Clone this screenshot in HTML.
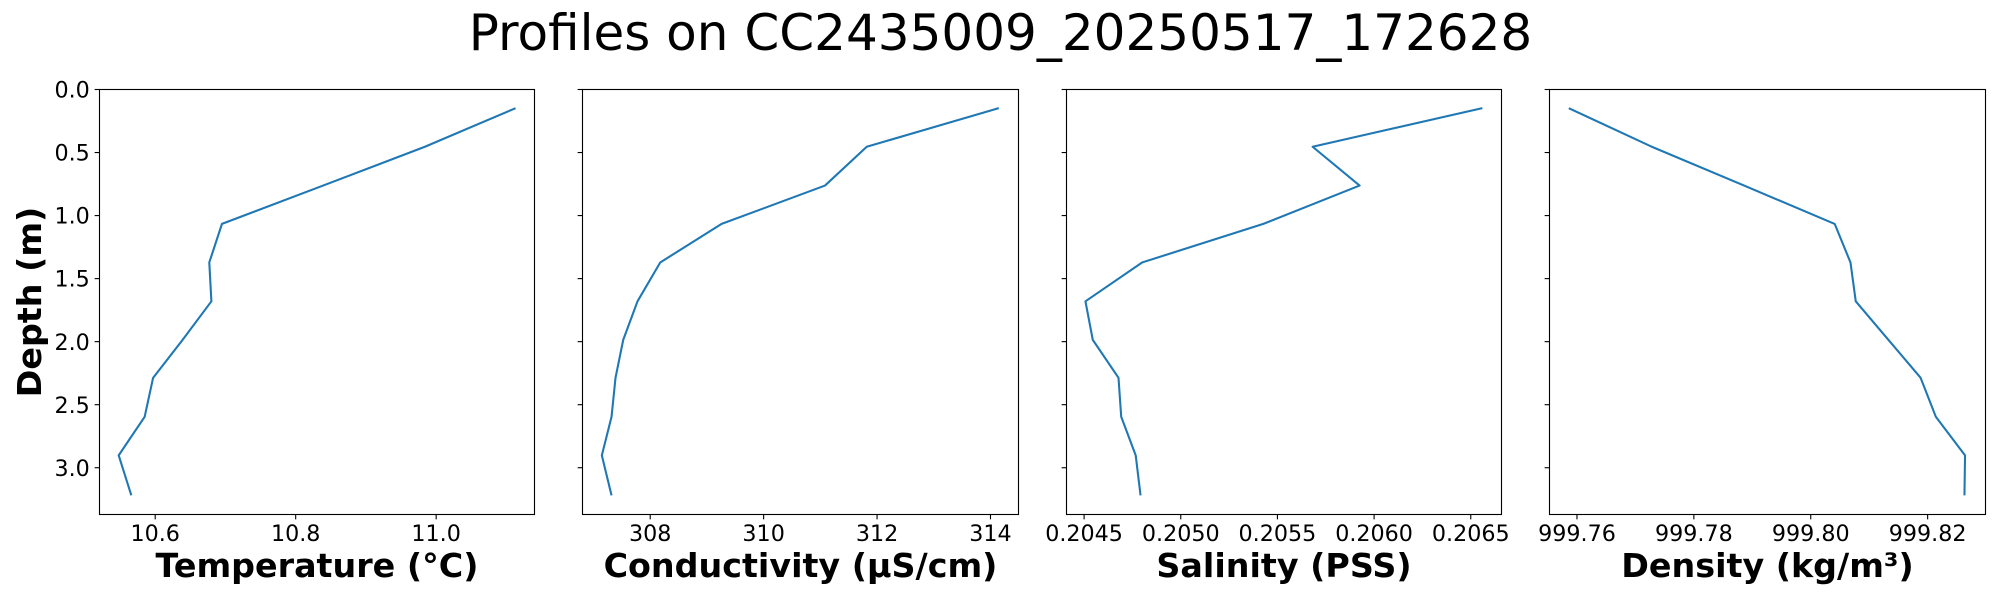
<!DOCTYPE html>
<html lang="en">
<head>
<meta charset="utf-8">
<title>Profiles on CC2435009_20250517_172628</title>
<style>
html,body{margin:0;padding:0;background:#fff;width:2000px;height:600px;overflow:hidden}
svg{display:block}
text{font-family:"DejaVu Sans","Liberation Sans",sans-serif;fill:#000}
.tick{font-size:22.22px}
.lab{font-size:33.33px;font-weight:bold}
</style>
</head>
<body>
<svg id="fig" width="2000" height="600" viewBox="0 0 2000 600" xmlns="http://www.w3.org/2000/svg">
<text x="1000.5" y="50" text-anchor="middle" font-size="50">Profiles on CC2435009_20250517_172628</text>
</svg>
<script>
var depths = [0.148, 0.454, 0.762, 1.066, 1.372, 1.680, 1.986, 2.287, 2.596, 2.902, 3.219];
var temperature = [11.113, 10.984, 10.839, 10.695, 10.677, 10.680, 10.639, 10.597, 10.585, 10.548, 10.566];
var conductivity = [314.147, 311.818, 311.082, 309.259, 308.176, 307.776, 307.524, 307.388, 307.318, 307.147, 307.318];
var salinity = [0.206560, 0.205682, 0.205925, 0.205427, 0.204800, 0.204507, 0.204545, 0.204678, 0.204692, 0.204767, 0.204792];
var density = [999.7586, 999.7728, 999.7886, 999.8041, 999.8068, 999.8077, 999.8133, 999.8188, 999.8214, 999.8264, 999.8263];

var depthTicks = [0, 0.5, 1, 1.5, 2, 2.5, 3];
var depthTickLabels = ['0.0', '0.5', '1.0', '1.5', '2.0', '2.5', '3.0'];
var depthDomain = [0, 3.371];

var temperatureTicks = [10.6, 10.8, 11.0];
var temperatureTickLabels = ['10.6', '10.8', '11.0'];
var temperatureDomain = [10.5207, 11.140];

var conductivityTicks = [308, 310, 312, 314];
var conductivityTickLabels = ['308', '310', '312', '314'];
var conductivityDomain = [306.806, 314.494];

var salinityTicks = [0.2045, 0.2050, 0.2055, 0.2060, 0.2065];
var salinityTickLabels = ['0.2045', '0.2050', '0.2055', '0.2060', '0.2065'];
var salinityDomain = [0.204409, 0.206659];

var densityTicks = [999.76, 999.78, 999.80, 999.82];
var densityTickLabels = ['999.76', '999.78', '999.80', '999.82'];
var densityDomain = [999.7553, 999.8299];

var NS = 'http://www.w3.org/2000/svg';
var fig = document.getElementById('fig');
var TOP = 89.5, BOTTOM = 514.5, TICK = 4.86;

function mk(tag, attrs, parent) {
  var el = document.createElementNS(NS, tag);
  for (var k in attrs) el.setAttribute(k, attrs[k]);
  parent.appendChild(el);
  return el;
}

function drawPanel(key, left, right, values, domain, ticks, tickLabels, xlabel, showDepth) {
  var xScale = function (v) { return left + (v - domain[0]) / (domain[1] - domain[0]) * (right - left); };
  var yScale = function (d) { return TOP + (d - depthDomain[0]) / (depthDomain[1] - depthDomain[0]) * (BOTTOM - TOP); };

  var g = mk('g', {}, fig);
  
  

  var pts = values.map(function (v, i) { return xScale(v).toFixed(2) + ',' + yScale(depths[i]).toFixed(2); }).join(' ');
  var line = mk('polyline', { points: pts, fill: 'none', stroke: '#1f77b4', 'stroke-width': 2.08, 'stroke-linejoin': 'round', 'stroke-linecap': 'butt' }, g);
  
  

  var frame = mk('rect', { x: left, y: TOP, width: right - left, height: BOTTOM - TOP, fill: 'none', stroke: '#000', 'stroke-width': 1.11 }, g);
  
  

  ticks.forEach(function (t, i) {
    var x = xScale(t);
    var m = mk('line', { x1: x, x2: x, y1: BOTTOM, y2: BOTTOM + TICK, stroke: '#000', 'stroke-width': 1.11 }, g);
    
    
    var lb = mk('text', { x: x, y: 541, 'text-anchor': 'middle', 'class': 'tick' }, g);
    
    
    lb.textContent = tickLabels[i];
  });

  depthTicks.forEach(function (t, i) {
    var y = yScale(t);
    var m = mk('line', { x1: left - TICK, x2: left, y1: y, y2: y, stroke: '#000', 'stroke-width': 1.11 }, g);
    
    
    if (showDepth) {
      var lb = mk('text', { x: left - 9.7, y: y + 8.1, 'text-anchor': 'end', 'class': 'tick' }, g);
      
      
      lb.textContent = depthTickLabels[i];
    }
  });

  var xl = mk('text', { x: (left + right) / 2, y: 577, 'text-anchor': 'middle', 'class': 'lab' }, g);
  
  
  xl.textContent = xlabel;

  if (showDepth) {
    var yl = mk('text', { transform: 'translate(41,' + (TOP + BOTTOM) / 2 + ') rotate(-90)', 'text-anchor': 'middle', 'class': 'lab' }, g);
    
    
    yl.textContent = 'Depth (m)';
  }
}

drawPanel('temperature', 99.5, 534.5, temperature, temperatureDomain, temperatureTicks, temperatureTickLabels, 'Temperature (°C)', true);
drawPanel('conductivity', 582.5, 1018.5, conductivity, conductivityDomain, conductivityTicks, conductivityTickLabels, 'Conductivity (µS/cm)', false);
drawPanel('salinity', 1066.5, 1501.5, salinity, salinityDomain, salinityTicks, salinityTickLabels, 'Salinity (PSS)', false);
drawPanel('density', 1549.5, 1985.5, density, densityDomain, densityTicks, densityTickLabels, 'Density (kg/m³)', false);
</script>
</body>
</html>
